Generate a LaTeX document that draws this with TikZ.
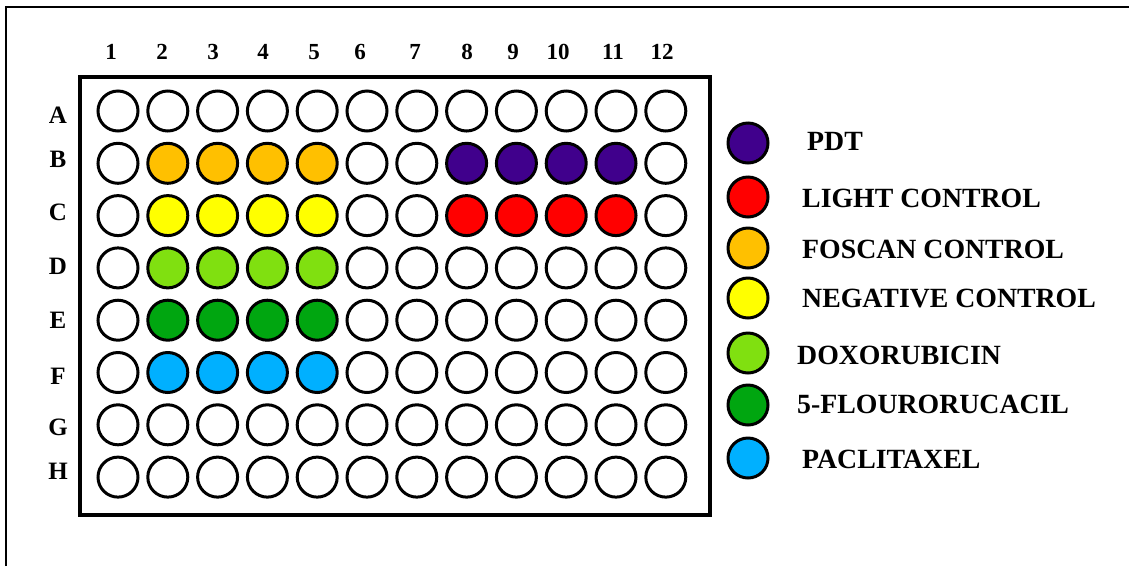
\documentclass[tikz,border=0pt]{standalone}
\usepackage{fontspec}
\setmainfont{Liberation Serif}
\definecolor{pdtcol}{RGB}{64,0,140}
\definecolor{lightcol}{RGB}{255,0,0}
\definecolor{foscancol}{RGB}{255,192,0}
\definecolor{negcol}{RGB}{255,255,0}
\definecolor{doxcol}{RGB}{128,224,16}
\definecolor{fucol}{RGB}{0,166,16}
\definecolor{paclcol}{RGB}{0,176,255}
% well colours, left block (columns 2-5) and right block (columns 8-11)
\colorlet{LA}{white}\colorlet{LB}{foscancol}\colorlet{LC}{negcol}\colorlet{LD}{doxcol}
\colorlet{LE}{fucol}\colorlet{LF}{paclcol}\colorlet{LG}{white}\colorlet{LH}{white}
\colorlet{RA}{white}\colorlet{RB}{pdtcol}\colorlet{RC}{lightcol}\colorlet{RD}{white}
\colorlet{RE}{white}\colorlet{RF}{white}\colorlet{RG}{white}\colorlet{RH}{white}
\begin{document}
\begin{tikzpicture}[x=1pt,y=-1pt,
	well/.style={circle,draw,line width=3pt,minimum size=40pt,inner sep=0pt},
	collab/.style={anchor=base,inner sep=0pt,font=\fontsize{23}{23}\selectfont\bfseries},
	rowlab/.style={inner sep=0pt,font=\fontsize{25}{25}\selectfont\bfseries},
	leglab/.style={anchor=west,inner sep=0pt,font=\fontsize{27.8}{28}\selectfont\bfseries}]
	\useasboundingbox (0,0) rectangle (1129,566);
	\draw[line width=1.5pt] (6,566) -- (6,7) -- (1129,7);
	\node[draw,line width=3.5pt,minimum width=630pt,minimum height=438pt,inner sep=0pt] (plate) at (395,296) {};
	% wells
	\foreach \r [count=\i from 0] in {A,B,C,D,E,F,G,H}
		\foreach \c in {1,...,12} {
			\def\wellfill{white}
			\ifnum\c>1 \ifnum\c<6 \def\wellfill{L\r}\fi\fi
			\ifnum\c>7 \ifnum\c<12 \def\wellfill{R\r}\fi\fi
			\node[well,fill=\wellfill] (w\r\c) at ({118+(\c-1)*49.8},{111+\i*52.3}) {};
		}
	% column and row labels
	\foreach \c/\x in {1/111,2/162,3/213,4/263,5/314,6/360,7/415,8/467,9/513,10/558,11/613,12/662}
		\node[collab] (c\c) at (\x,59) {\c};
	\foreach \r/\y in {A/115,B/159,C/212,D/266,E/320,F/376,G/427,H/471}
		\node[rowlab] (r\r) at (58,\y) {\r};
	% legend
	\foreach \col/\y/\tx/\ty/\txt [count=\k] in {pdtcol/143/807/141/PDT,
			lightcol/197/802/198/LIGHT CONTROL,
			foscancol/248/802/249/FOSCAN CONTROL,
			negcol/298/802/298/NEGATIVE CONTROL,
			doxcol/353/797/355/DOXORUBICIN,
			fucol/405/797/404/5-FLOURORUCACIL,
			paclcol/458/802/459/PACLITAXEL} {
		\node[well,fill=\col] (key\k) at (748,\y) {};
		\node[leglab] (lab\k) at (\tx,\ty) {\txt};
	}
\end{tikzpicture}
\end{document}
